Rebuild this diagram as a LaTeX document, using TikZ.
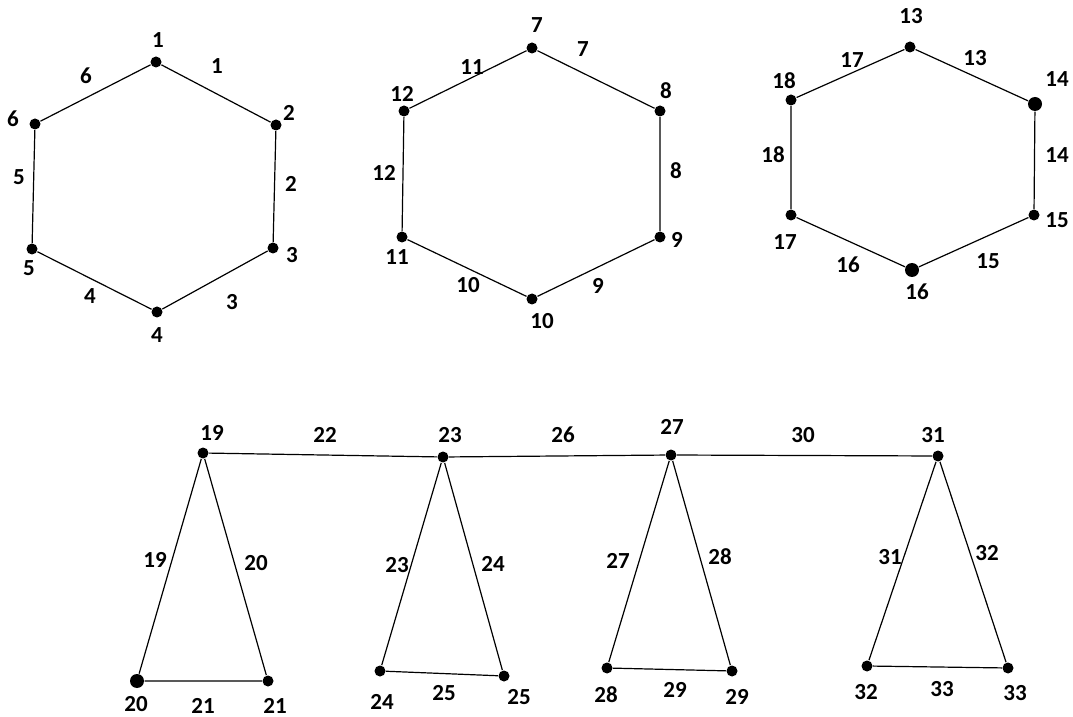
\documentclass[tikz,border=0pt]{standalone}
\usepackage{fontspec}
\setmainfont{Carlito}
\usetikzlibrary{positioning}

\begin{document}
\begin{tikzpicture}[x=0.5pt, y=-0.5pt, line width=0.6pt,
            v/.style={circle, fill=black, minimum size=5.5pt, inner sep=0pt},
            vb/.style={v, minimum size=7pt},
            t/.style={font=\fontsize{11.5}{13}\selectfont\bfseries, inner sep=0pt}]
            \useasboundingbox (0,0) rectangle (1073,717);
            % first hexagon
            \node[v] (1) at (156,62)  {};
            \node[v] (2) at (276,125) {};
            \node[v] (3) at (273,248) {};
            \node[v] (4) at (157,312) {};
            \node[v] (5) at (32,249)  {};
            \node[v] (6) at (35,124)  {};
            \draw (1)--(2) (2)--(3) (3)--(4) (4)--(5) (5)--(6) (6)--(1);
            \node[t] (l1) at (158,40)  {1};
            \node[t] (l2) at (289,113) {2};
            \node[t] (l3) at (292,255) {3};
            \node[t] (l4) at (157,335) {4};
            \node[t] (l5) at (29,268)  {5};
            \node[t] (l6) at (13,119)  {6};
            \node[t] (e1) at (217,66)  {1};
            \node[t] (e2) at (291,184) {2};
            \node[t] (e3) at (232,302) {3};
            \node[t] (e4) at (90,296)  {4};
            \node[t] (e5) at (19,177)  {5};
            \node[t] (e6) at (86,76)   {6};
            % second hexagon
            \node[v] (7)  at (532,48)  {};
            \node[v] (8)  at (660,111) {};
            \node[v] (9)  at (660,237) {};
            \node[v] (10) at (532,299) {};
            \node[v] (11) at (402,237) {};
            \node[v] (12) at (404,111) {};
            \draw (7)--(8) (8)--(9) (9)--(10) (10)--(11) (11)--(12) (12)--(7);
            \node[t] (l7)  at (537,25)  {7};
            \node[t] (l8)  at (666,91)  {8};
            \node[t] (l9)  at (677,240) {9};
            \node[t] (l10) at (542,321) {10};
            \node[t] (l11) at (397,257) {11};
            \node[t] (l12) at (402,94)  {12};
            \node[t] (e7)  at (583,49)  {7};
            \node[t] (e8)  at (676,171) {8};
            \node[t] (e9)  at (598,286) {9};
            \node[t] (e10) at (468,285) {10};
            \node[t] (e11) at (472,67)  {11};
            \node[t] (e12) at (384,173) {12};
            % third hexagon
            \node[v]  (13) at (910,47)   {};
            \node[vb] (14) at (1035,104) {};
            \node[v]  (15) at (1034,215) {};
            \node[vb] (16) at (912,270)  {};
            \node[v]  (17) at (791,215)  {};
            \node[v]  (18) at (791,100)  {};
            \draw (13)--(14) (14)--(15) (15)--(16) (16)--(17) (17)--(18) (18)--(13);
            \node[t] (l13) at (911,16)  {13};
            \node[t] (l14) at (1057,79) {14};
            \node[t] (l15) at (1057,220){15};
            \node[t] (l16) at (917,292) {16};
            \node[t] (l17) at (785,242) {17};
            \node[t] (l18) at (784,81)  {18};
            \node[t] (e13) at (975,58)  {13};
            \node[t] (e14) at (1057,155){14};
            \node[t] (e15) at (988,261) {15};
            \node[t] (e16) at (848,265) {16};
            \node[t] (e17) at (852,60)  {17};
            \node[t] (e18) at (773,155) {18};
            % chain of triangles
            \node[v]  (19) at (203,453) {};
            \node[vb] (20) at (137,681) {};
            \node[v]  (21) at (268,681) {};
            \node[v]  (23) at (443,457) {};
            \node[v]  (24) at (380,671) {};
            \node[v]  (25) at (504,676) {};
            \node[v]  (27) at (671,455) {};
            \node[v]  (28) at (607,668) {};
            \node[v]  (29) at (732,671) {};
            \node[v]  (31) at (938,456) {};
            \node[v]  (32) at (867,666) {};
            \node[v]  (33) at (1008,668){};
            \draw (19)--(23) (23)--(27) (27)--(31);
            \draw (19)--(20) (20)--(21) (21)--(19);
            \draw (23)--(24) (24)--(25) (25)--(23);
            \draw (27)--(28) (28)--(29) (29)--(27);
            \draw (31)--(32) (32)--(33) (33)--(31);
            \node[t] (l19) at (212,433) {19};
            \node[t] (l20) at (136,704) {20};
            \node[t] (l21) at (275,706) {21};
            \node[t] (l23) at (450,435) {23};
            \node[t] (l24) at (382,702) {24};
            \node[t] (l25) at (519,697) {25};
            \node[t] (l27) at (672,427) {27};
            \node[t] (l28) at (606,695) {28};
            \node[t] (l29) at (737,697) {29};
            \node[t] (l31) at (933,435) {31};
            \node[t] (l32) at (866,692) {32};
            \node[t] (l33) at (1015,693){33};
            \node[t] (e19) at (155,560) {19};
            \node[t] (e20) at (256,563) {20};
            \node[t] (e21) at (203,706) {21};
            \node[t] (e22) at (325,435) {22};
            \node[t] (e23) at (397,565) {23};
            \node[t] (e24) at (493,564) {24};
            \node[t] (e25) at (444,693) {25};
            \node[t] (e26) at (563,435) {26};
            \node[t] (e27) at (618,561) {27};
            \node[t] (e28) at (720,557) {28};
            \node[t] (e29) at (675,690) {29};
            \node[t] (e30) at (803,435) {30};
            \node[t] (e31) at (890,557) {31};
            \node[t] (e32) at (987,553) {32};
            \node[t] (e33) at (942,689) {33};
\end{tikzpicture}
\end{document}
